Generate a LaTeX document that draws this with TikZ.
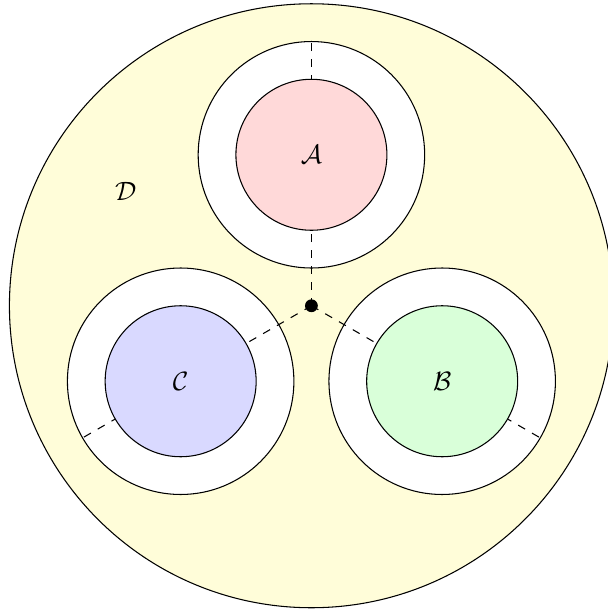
\documentclass[tikz,border=0pt]{standalone}
\begin{document}
\begin{tikzpicture}[
  ring/.style={circle, draw, fill=white, minimum size=3cm, inner sep=0pt, outer sep=0pt},
  core/.style={circle, draw, minimum size=2cm, inner sep=0pt, outer sep=0pt},
  axisline/.style={dashed}
]
\useasboundingbox (-4.125,-4.03) rectangle (3.928,4.05);
\node[circle, draw, fill=yellow!15, minimum size=8cm, inner sep=0pt, outer sep=0pt] (D) at (0,0) {};
\node at (-2.46,1.51) {$\mathcal{D}$};
\node[ring] (Ao) at (90:2) {};
\node[ring] (Bo) at (-30:2) {};
\node[ring] (Co) at (210:2) {};
\node[circle, fill, inner sep=0pt, minimum size=0.17cm] (O) at (0,0) {};
\draw[axisline] (O.center) -- (Ao.90);
\draw[axisline] (O.center) -- (Bo.-30);
\draw[axisline] (O.center) -- (Co.210);
\node[core, fill=red!15] (A) at (Ao.center) {$\mathcal{A}$};
\node[core, fill=green!15] (B) at (Bo.center) {$\mathcal{B}$};
\node[core, fill=blue!15] (C) at (Co.center) {$\mathcal{C}$};
\end{tikzpicture}
\end{document}
